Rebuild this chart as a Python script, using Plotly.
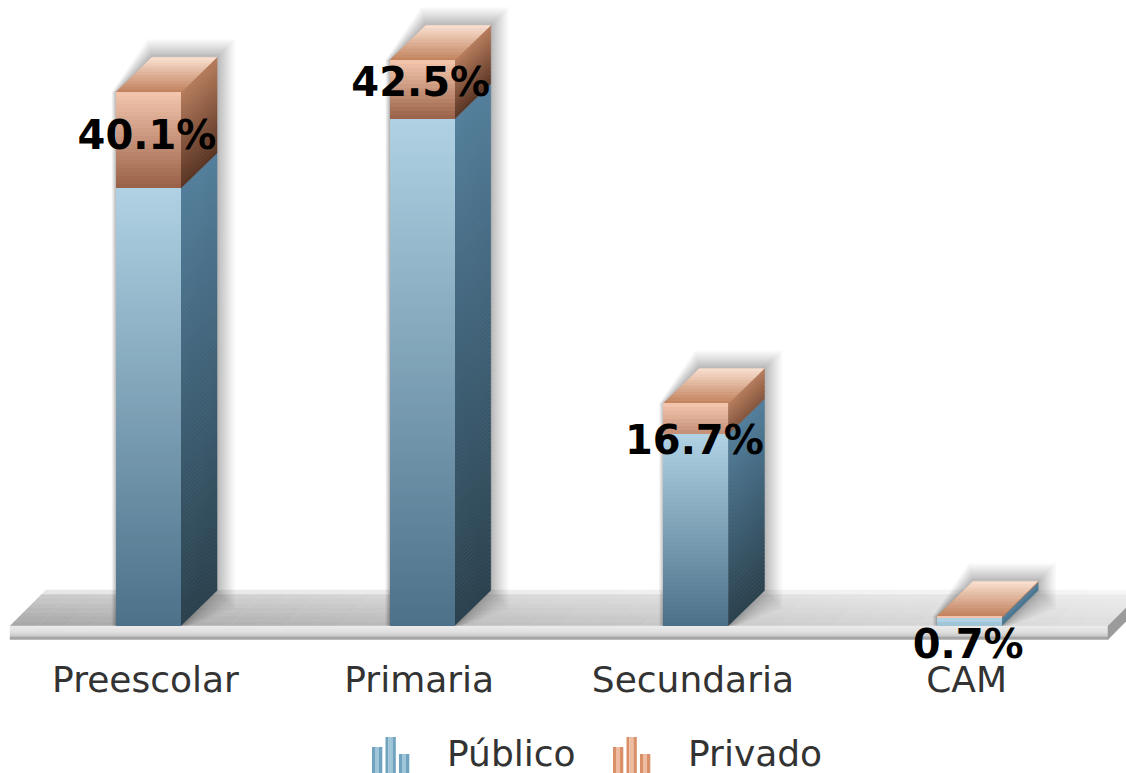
import plotly.graph_objects as go

categories = ["Preescolar", "Primaria", "Secundaria", "CAM"]
publico = [32.9, 38.1, 14.4, 0.6]
privado = [7.2, 4.4, 2.3, 0.1]
etiquetas = ["40.1%", "42.5%", "16.7%", "0.7%"]
series_names = ["Público", "Privado"]

W, H = 1126, 773
PLOT_H = 640
PX_PER_X = 273.7
PX_PER_Y = 13.3
X0_PX = 148.5
Y0_PX = 625.5
BAR_PX = 65.0
DX, DY = 36, 35
label_shift_px = [47, 26, 41, 12]
label_anchor = ["middle center", "middle center", "middle center", "bottom center"]


def xpx(v):
    return (v - X0_PX) / PX_PER_X


def ypx(v):
    return (Y0_PX - v) / PX_PER_Y


def hexrgb(c):
    return tuple(int(c[i:i + 2], 16) for i in (1, 3, 5))


def mix(a, b, t):
    a, b = hexrgb(a), hexrgb(b)
    return "#%02x%02x%02x" % tuple(round(p + (q - p) * t) for p, q in zip(a, b))


shapes = []


def poly(points, color, opacity=None):
    path = "M" + "L".join(f"{xpx(x):.5f},{ypx(y):.4f}" for x, y in points) + "Z"
    s = dict(type="path", path=path, xref="x", yref="y", layer="below",
             fillcolor=color, line=dict(color=color, width=0.5))
    if opacity is not None:
        s.update(opacity=opacity, line=dict(width=0))
    shapes.append(s)


# floor ------------------------------------------------------------------
FL, FR, FT, FB = 10, 1108, 590, 626
rows = 8
cols = 40
for r in range(rows):
    y1, y2 = FT + (FB - FT) * r / rows, FT + (FB - FT) * (r + 1) / rows
    t = r / (rows - 1)
    for c in range(cols):
        u = c / (cols - 1)
        back = mix("#e6e6e6", "#f6f6f6", u)
        near = mix("#a8a8a8", "#dedede", u)
        col = back if r == 0 else mix(mix(back, near, 0.35), near, t)
        xa = FL + (FR - FL) * c / cols
        xb = FL + (FR - FL) * (c + 1) / cols
        sa, sb = (FB - y1), (FB - y2)
        poly([(xa + sb, y2), (xa + sa, y1), (xb + sa, y1), (xb + sb, y2)], col)
for i, col in enumerate(["#e9e9e9", "#e4e4e4", "#dcdcdc", "#cfcfcf", "#a6a6a6"]):
    h = 13.5 / 5
    poly([(FL, FB + i * h), (FR, FB + i * h), (FR, FB + (i + 1) * h), (FL, FB + (i + 1) * h)], col)
poly([(FR, FB), (FR + 36, FB - 36), (FR + 36, FB - 23), (FR, FB + 13.5)], "#9b9b9b")

# bars -------------------------------------------------------------------
PUB_FRONT = ("#afd1e3", "#4c7189")
PUB_SIDE = ("#527e9b", "#2a414e")
PRI_FRONT = ("#f2c4ac", "#9a6248")
PRI_SIDE = ("#b57a5a", "#5b3524")
TOP_FACE = ("#c4845f", "#f8ddcd")


def slices(y_low, y_high):
    hpx = (y_high - y_low) * PX_PER_Y
    n = max(1, round(hpx / 4))
    st = (y_high - y_low) / n
    scale = min(1.0, hpx / 60)
    return [(y_high - st * (k + 1), y_high - st * k, scale * k / max(1, n - 1)) for k in range(n)]


front = {0: dict(x=[], y=[], base=[], c=[]), 1: dict(x=[], y=[], base=[], c=[])}

for i in range(len(categories)):
    cx = X0_PX + i * PX_PER_X
    xl, xr = cx - BAR_PX / 2, cx + BAR_PX / 2
    pub, tot = publico[i], publico[i] + privado[i]
    ptop = Y0_PX - tot * PX_PER_Y
    # soft shadow
    for e in range(1, 15):
        r = 18 * (e / 14) ** 1.4
        poly([(xl - 0.25 * r, Y0_PX), (xl - 0.25 * r, ptop), (xl + DX - 0.25 * r, ptop - DY - r),
              (xr + DX + r, ptop - DY - r), (xr + DX + r, Y0_PX - DY + r), (xr + r * 0.5, Y0_PX)],
             "#000000", 0.024)
    for k, (lo, hi, ramp_f, ramp_s) in enumerate([(0, pub, PUB_FRONT, PUB_SIDE), (pub, tot, PRI_FRONT, PRI_SIDE)]):
        for a, b, t in slices(lo, hi):
            front[k]["x"].append(i)
            front[k]["y"].append(b - a)
            front[k]["base"].append(a)
            front[k]["c"].append(mix(ramp_f[0], ramp_f[1], t))
            ya, yb = Y0_PX - a * PX_PER_Y, Y0_PX - b * PX_PER_Y
            poly([(xr, ya), (xr, yb), (xr + DX, yb - DY), (xr + DX, ya - DY)], mix(ramp_s[0], ramp_s[1], t))
    n = 12
    for j in range(n):
        s1, s2 = j / n, (j + 1) / n
        poly([(xl + DX * s1, ptop - DY * s1), (xr + DX * s1, ptop - DY * s1),
              (xr + DX * s2, ptop - DY * s2), (xl + DX * s2, ptop - DY * s2)],
             mix(TOP_FACE[0], TOP_FACE[1], j / (n - 1)))

fig = go.Figure()
for k, name in enumerate(series_names):
    fig.add_trace(go.Bar(x=front[k]["x"], y=front[k]["y"], base=front[k]["base"], name=name,
                         width=BAR_PX / PX_PER_X, showlegend=False, hoverinfo="skip",
                         marker=dict(color=front[k]["c"], line=dict(width=0))))

totals = [p + q for p, q in zip(publico, privado)]
fig.add_trace(go.Scatter(
    x=[i - 1.5 / PX_PER_X for i in range(len(categories))],
    y=[t - s / PX_PER_Y for t, s in zip(totals, label_shift_px)],
    text=etiquetas, mode="text", textposition=label_anchor, showlegend=False, hoverinfo="skip",
    cliponaxis=False,
    textfont=dict(family="DejaVu Sans", size=40, color="#000000", weight="bold")))


# legend -----------------------------------------------------------------
def paper_y(v):
    return (PLOT_H - v) / PLOT_H


def legend_icon(x0, edge, centre):
    for off, top, in [(0, 747), (13.5, 737), (27, 754)]:
        for a, b, col in [(0, 3, edge), (3, 7, centre), (7, 10.3, edge)]:
            shapes.append(dict(type="rect", xref="paper", yref="paper", layer="above",
                               x0=(x0 + off + a) / W, x1=(x0 + off + b) / W,
                               y0=paper_y(773), y1=paper_y(top), fillcolor=col, line=dict(width=0)))


legend_icon(372, "#6fa3bf", "#a0c6d9")
legend_icon(613, "#d98f68", "#eebca0")
anns = [dict(x=x / W, y=paper_y(753), xref="paper", yref="paper", text=t, showarrow=False,
             xanchor="center", yanchor="middle",
             font=dict(family="DejaVu Sans", size=36, color="#333333"))
        for x, t in [(511, series_names[0]), (755, series_names[1])]]

fig.update_layout(
    width=W, height=H, margin=dict(l=0, r=0, t=0, b=H - PLOT_H), autosize=False,
    paper_bgcolor="#ffffff", plot_bgcolor="#ffffff", barmode="overlay", bargap=0,
    shapes=shapes, annotations=anns, showlegend=False,
    xaxis=dict(range=[xpx(0), xpx(W)], tickmode="array",
               tickvals=[i - 3 / PX_PER_X for i in range(len(categories))],
               ticktext=categories, showgrid=False, zeroline=False, showline=False,
               ticks="outside", ticklen=8, tickcolor="rgba(0,0,0,0)", automargin=False,
               tickfont=dict(family="DejaVu Sans", size=36, color="#333333"), fixedrange=True),
    yaxis=dict(range=[ypx(PLOT_H), ypx(0)], visible=False, fixedrange=True),
)

fig.write_html("out.html", config=dict(displayModeBar=False),
               post_script="document.body.style.margin='0';document.body.style.overflow='hidden';")
